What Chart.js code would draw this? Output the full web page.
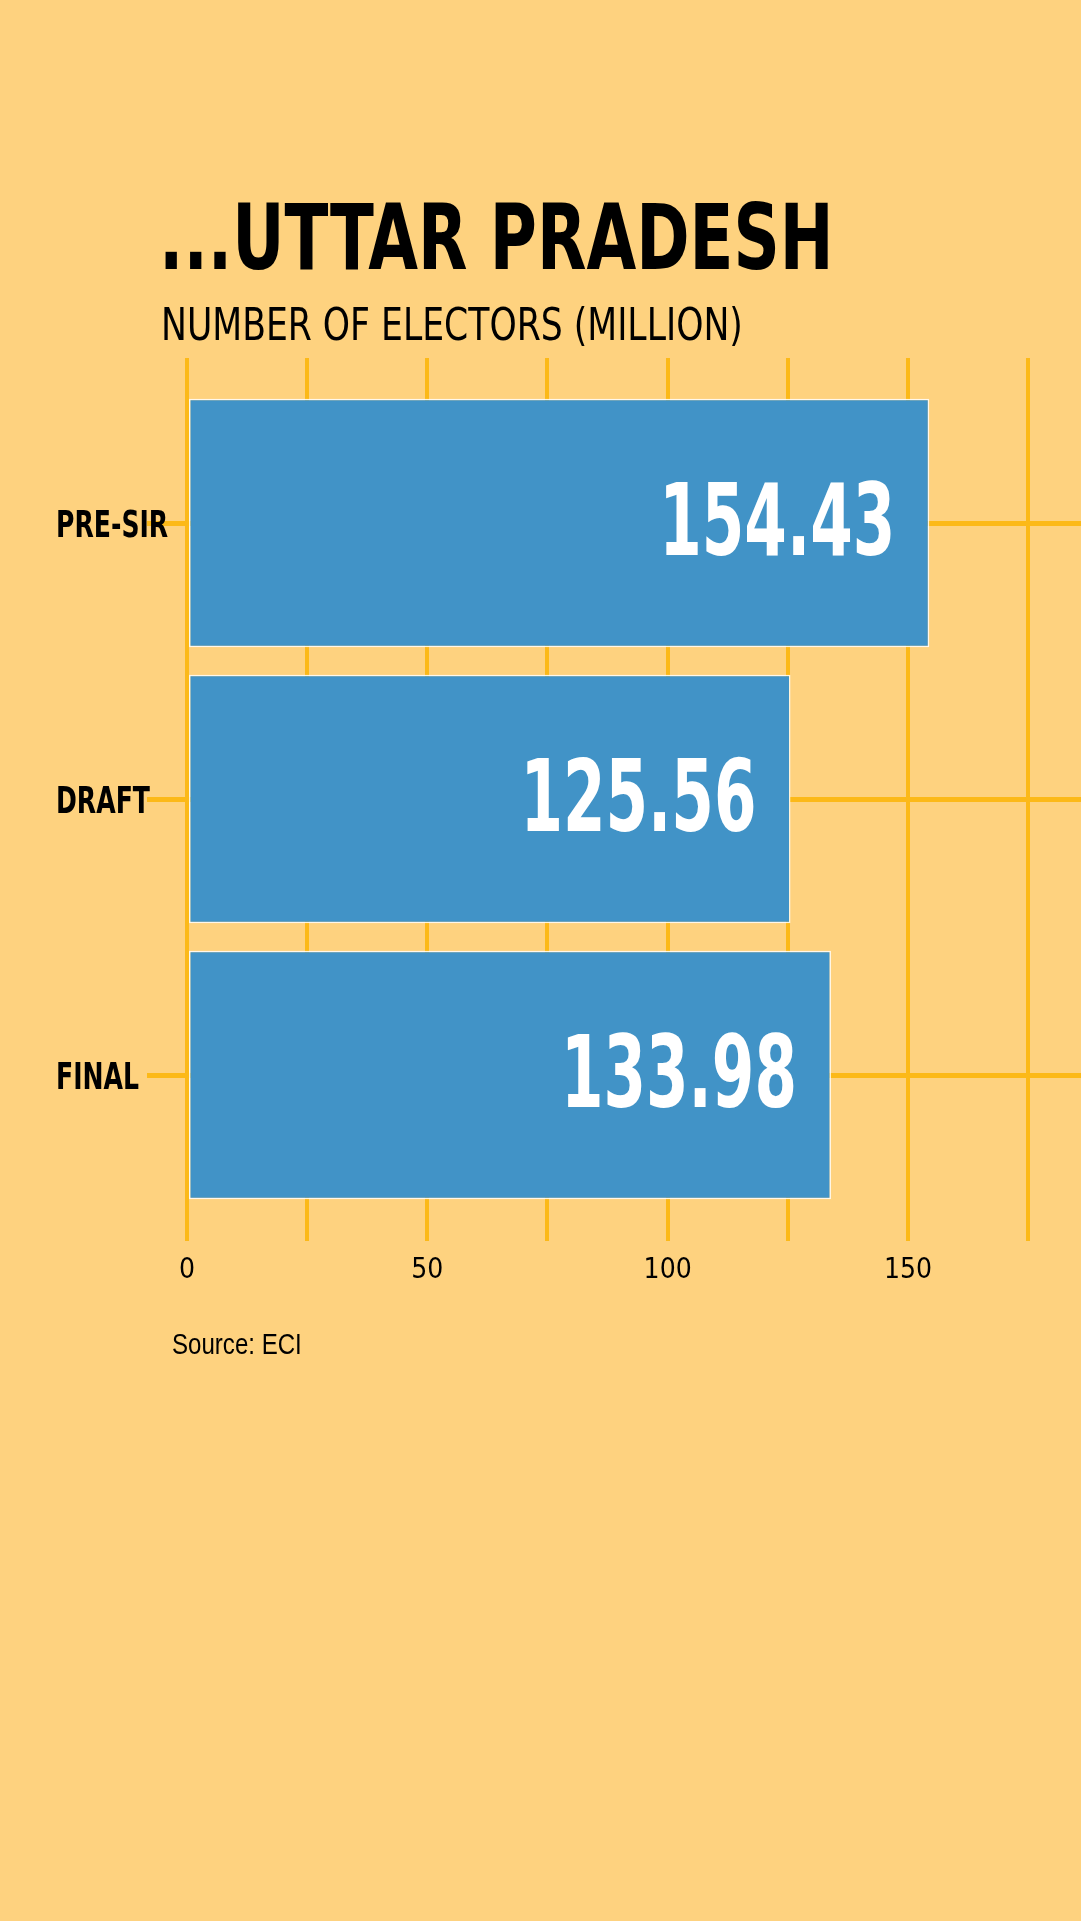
<!DOCTYPE html>
<html>
<head>
<meta charset="utf-8">
<script src="https://cdn.jsdelivr.net/npm/chart.js@4.4.1/dist/chart.umd.min.js"></script>
<style>
  html, body { margin: 0; padding: 0; background: #FED27F; width: 1081px; height: 1921px; overflow: hidden; }
  #wrap { position: relative; width: 1081px; height: 1921px; }
  canvas { position: absolute; left: 0; top: 0; }
  .txt { position: absolute; white-space: nowrap; color: #000; line-height: 1; transform-origin: 0 0; }
  #title { left: 159px; top: 192px; font-size: 91px; font-weight: bold; font-family: 'DejaVu Sans Condensed', 'DejaVu Sans', sans-serif; transform: scaleX(0.785); }
  #subtitle { left: 161px; top: 303px; font-size: 44px; font-weight: normal; font-family: 'DejaVu Sans Condensed', 'DejaVu Sans', sans-serif; transform: scaleX(0.875); }
  #source { left: 172px; top: 1330px; font-size: 29px; font-family: 'Liberation Sans', Arial, sans-serif; transform: scaleX(0.83); }
</style>
</head>
<body>
<div id="wrap">
  <canvas id="c" width="1081" height="1921"></canvas>
  <div class="txt" id="title">...UTTAR PRADESH</div>
  <div class="txt" id="subtitle">NUMBER OF ELECTORS (MILLION)</div>
  <div class="txt" id="source">Source: ECI</div>
</div>
<script>
const categories = ['PRE-SIR', 'DRAFT', 'FINAL'];
const electors = [154.43, 125.56, 133.98];
const tickLabels = [0, 50, 100, 150];
const gridTicks = [0, 25, 50, 75, 100, 125, 150, 175];
const axisMax = 186;

const FONT = "'DejaVu Sans Condensed', 'DejaVu Sans', sans-serif";
const GRID = '#FCB918';

const customText = {
  id: 'customText',
  afterDatasetsDraw(chart) {
    const ctx = chart.ctx;
    const meta = chart.getDatasetMeta(0);
    const yScale = chart.scales.y;
    ctx.save();
    // value labels inside bars
    ctx.fillStyle = '#ffffff';
    ctx.font = 'bold 100px ' + FONT;
    ctx.textAlign = 'right';
    ctx.textBaseline = 'alphabetic';
    meta.data.forEach((bar, i) => {
      const txt = electors[i].toFixed(2);
      ctx.save();
      ctx.translate(bar.x - 34, bar.y + 32);
      ctx.scale(0.68, 1);
      ctx.fillText(txt, 0, 0);
      ctx.restore();
    });
    // category labels
    ctx.fillStyle = '#000000';
    ctx.font = 'bold 37px ' + FONT;
    ctx.textAlign = 'left';
    categories.forEach((lab, i) => {
      const y = yScale.getPixelForTick(i);
      ctx.save();
      ctx.translate(yScale.left, y + 14);
      ctx.scale(0.755, 1);
      ctx.fillText(lab, 0, 0);
      ctx.restore();
    });
    ctx.restore();
  }
};

new Chart(document.getElementById('c'), {
  type: 'bar',
  data: {
    labels: categories,
    datasets: [{
      data: electors,
      backgroundColor: '#4193C7',
      borderColor: 'rgba(255,255,255,0.85)',
      borderWidth: 1.5,
      borderSkipped: false,
      barPercentage: 0.9,
      categoryPercentage: 1.0
    }]
  },
  options: {
    indexAxis: 'y',
    responsive: false,
    animation: false,
    layout: { padding: { left: 56, right: 0, top: 358, bottom: 628 } },
    plugins: { legend: { display: false }, tooltip: { enabled: false }, title: { display: false } },
    scales: {
      x: {
        type: 'linear',
        position: 'bottom',
        min: 0,
        max: axisMax,
        border: { display: false },
        grid: { color: GRID, lineWidth: 4, tickLength: 28, drawOnChartArea: true },
        ticks: {
          padding: 13,
          color: '#000',
          font: { family: FONT, size: 28 },
          maxRotation: 0,
          autoSkip: false,
          callback: (v) => tickLabels.includes(v) ? String(v) : ''
        },
        afterBuildTicks: (s) => { s.ticks = gridTicks.map(v => ({ value: v })); },
        afterFit: (s) => { s.height = 80; s.paddingLeft = 0; s.paddingRight = 0; }
      },
      x2: {
        type: 'linear',
        position: 'top',
        min: 0,
        max: axisMax,
        border: { display: false },
        grid: { color: GRID, lineWidth: 4, tickLength: 27, drawOnChartArea: false },
        ticks: { display: false },
        afterBuildTicks: (s) => { s.ticks = gridTicks.map(v => ({ value: v })); },
        afterFit: (s) => { s.height = 27; s.paddingLeft = 0; s.paddingRight = 0; }
      },
      y: {
        type: 'category',
        offset: true,
        border: { display: false },
        grid: { color: GRID, lineWidth: 5, tickLength: 40, offset: false },
        ticks: { display: false },
        afterFit: (s) => { s.width = 131; }
      }
    }
  },
  plugins: [customText]
});
</script>
</body>
</html>
